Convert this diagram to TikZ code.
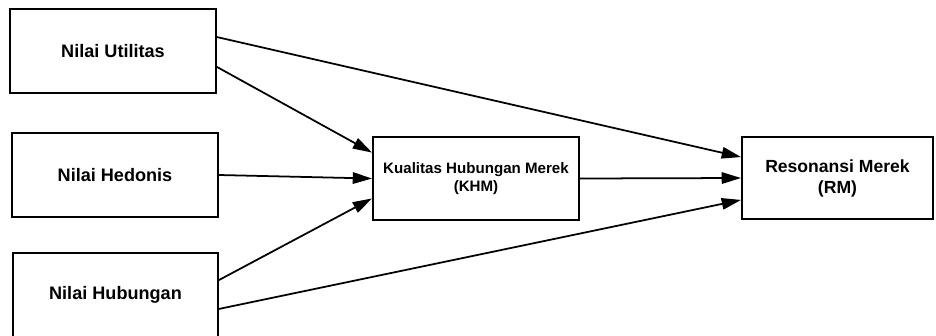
\documentclass[tikz,border=0pt]{standalone}
\usepackage{fontspec}
\setmainfont{Liberation Sans}
\usetikzlibrary{arrows.meta}

\begin{document}
\begin{tikzpicture}[x=0.02cm, y=-0.02cm,
    box/.style={draw=black, line width=1.1pt, minimum width=4.12cm, minimum height=1.68cm,
                font=\fontsize{10.3}{12}\selectfont\bfseries, align=center, inner sep=0pt},
    link/.style={line width=1pt, -{Triangle[length=11pt, width=6.5pt]}}]
    \useasboundingbox (0,0) rectangle (936,335);

    \node[box] (utilitas) at (113,51) {Nilai Utilitas};
    \node[box] (hedonis) at (115,175) {Nilai Hedonis};
    \node[box, minimum width=4.1cm] (hubungan) at (115.5,295) {Nilai Hubungan};
    \node[box, minimum height=1.66cm, font=\fontsize{8.6}{10}\selectfont\bfseries] (khm) at (476,178.5) {Kualitas Hubungan Merek\\(KHM)};
    \node[box, minimum width=3.82cm, minimum height=1.64cm, font=\fontsize{10}{12}\selectfont\bfseries] (rm) at (837.5,178) {Resonansi Merek\\(RM)};

    \draw[link] ([yshift=14*0.567pt]utilitas.east) -- ([yshift=21*0.567pt]rm.west);
    \draw[link] ([yshift=-16*0.567pt]utilitas.east) -- ([yshift=26*0.567pt]khm.west);
    \draw[link] (hedonis.east) -- (khm.west);
    \draw[link] ([yshift=15*0.567pt]hubungan.east) -- ([yshift=-20*0.567pt]khm.west);
    \draw[link] ([yshift=-14*0.567pt]hubungan.east) -- ([yshift=-22*0.567pt]rm.west);
    \draw[link] (khm.east) -- (rm.west);

  \end{tikzpicture}
\end{document}
